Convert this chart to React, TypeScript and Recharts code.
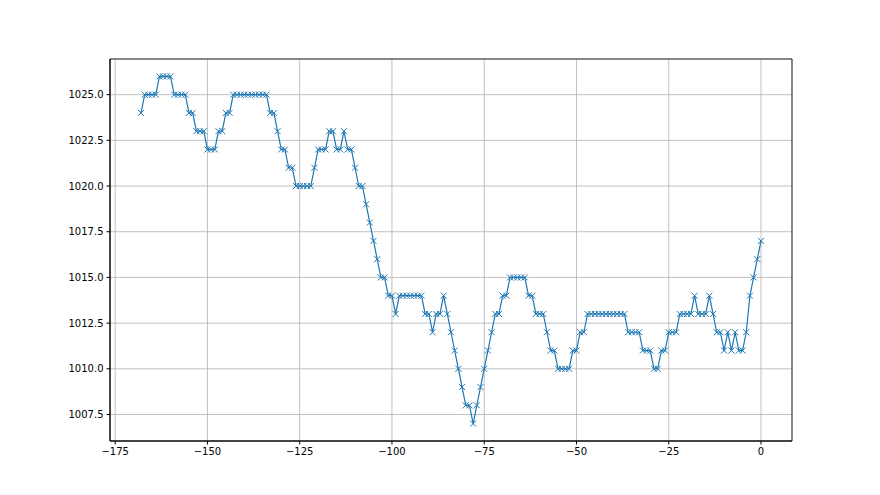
import { LineChart, Line, XAxis, YAxis, CartesianGrid, ReferenceArea } from 'recharts';

// hourly pressure readings, oldest (-168 h) to newest (0 h)
const pressure = [
  1024, 1025, 1025, 1025, 1025, 1026, 1026, 1026, 1026, 1025, 1025, 1025, 1025,
  1024, 1024, 1023, 1023, 1023, 1022, 1022, 1022, 1023, 1023, 1024, 1024,
  1025, 1025, 1025, 1025, 1025, 1025, 1025, 1025, 1025, 1025,
  1024, 1024, 1023, 1022, 1022, 1021, 1021, 1020, 1020, 1020, 1020, 1020,
  1021, 1022, 1022, 1022, 1023, 1023, 1022, 1022, 1023, 1022, 1022, 1021, 1020, 1020,
  1019, 1018, 1017, 1016, 1015, 1015, 1014, 1014, 1013,
  1014, 1014, 1014, 1014, 1014, 1014, 1014, 1013, 1013, 1012, 1013, 1013,
  1014, 1013, 1012, 1011, 1010, 1009, 1008, 1008,
  1007, 1008, 1009, 1010, 1011, 1012, 1013, 1013, 1014, 1014,
  1015, 1015, 1015, 1015, 1015, 1014, 1014, 1013, 1013, 1013, 1012, 1011, 1011,
  1010, 1010, 1010, 1010, 1011, 1011, 1012, 1012,
  1013, 1013, 1013, 1013, 1013, 1013, 1013, 1013, 1013, 1013, 1013,
  1012, 1012, 1012, 1012, 1011, 1011, 1011, 1010, 1010, 1011, 1011,
  1012, 1012, 1012, 1013, 1013, 1013, 1013, 1014, 1013, 1013, 1013, 1014, 1013,
  1012, 1012, 1011, 1012, 1011, 1012, 1011, 1011, 1012, 1014, 1015, 1016, 1017,
];

const hourTicks = [-175, -150, -125, -100, -75, -50, -25, 0];
const pressureTicks = [1007.5, 1010, 1012.5, 1015, 1017.5, 1020, 1022.5, 1025];

const data = pressure.map((p, i) => ({ hour: i - (pressure.length - 1), p }));

const X_DOMAIN: [number, number] = [-176.4, 8.4];
const Y_DOMAIN: [number, number] = [1006.05, 1026.95];
const BLUE = '#1f77b4';

function Cross(props: any) {
  const { cx, cy, index } = props;
  if (cx == null || cy == null) return <g key={`c${index}`} />;
  const s = 3;
  return (
    <path
      key={`c${index}`}
      d={`M${cx - s},${cy - s}L${cx + s},${cy + s}M${cx - s},${cy + s}L${cx + s},${cy - s}`}
      stroke={BLUE}
      strokeWidth={1}
      fill="none"
    />
  );
}

const fmtHour = (v: number) => (v < 0 ? `\u2212${-v}` : `${v}`);

export default function App() {
  return (
    <div style={{ position: 'absolute', left: 0, top: 0, background: '#fff' }}>
      <LineChart
        width={880}
        height={495}
        data={data}
        margin={{ top: 59, right: 88, bottom: 24, left: 0 }}
        style={{ fontFamily: 'DejaVu Sans' }}
      >
        <CartesianGrid stroke="#b0b0b0" strokeWidth={0.8} />
        <XAxis
          dataKey="hour"
          type="number"
          domain={X_DOMAIN}
          ticks={hourTicks}
          allowDataOverflow
          height={30}
          tickSize={3.5}
          tickMargin={3}
          tickFormatter={fmtHour}
          tick={{ fontSize: 10, fill: '#000' }}
          stroke="#000"
        />
        <YAxis
          type="number"
          domain={Y_DOMAIN}
          ticks={pressureTicks}
          allowDataOverflow
          width={110}
          tickSize={3.5}
          tickMargin={3}
          tickFormatter={(v: number) => v.toFixed(1)}
          tick={{ fontSize: 10, fill: '#000' }}
          stroke="#000"
        />
        <ReferenceArea
          x1={X_DOMAIN[0]}
          x2={X_DOMAIN[1]}
          y1={Y_DOMAIN[0]}
          y2={Y_DOMAIN[1]}
          fill="none"
          stroke="#000"
          strokeWidth={0.8}
          ifOverflow="visible"
        />
        <Line
          type="linear"
          dataKey="p"
          stroke={BLUE}
          strokeWidth={1.2}
          dot={Cross}
          activeDot={false}
          isAnimationActive={false}
        />
      </LineChart>
    </div>
  );
}
